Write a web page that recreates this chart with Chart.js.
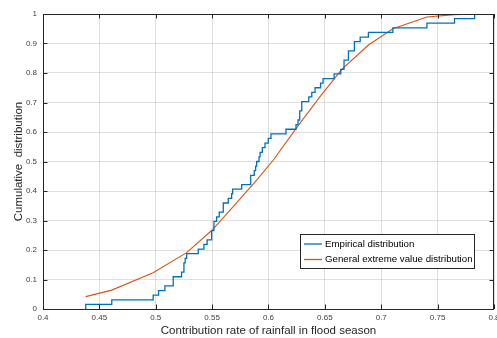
<!DOCTYPE html>
<html>
<head>
<meta charset="utf-8">
<script src="https://cdn.jsdelivr.net/npm/chart.js@4.4.1/dist/chart.umd.min.js"></script>
<style>
    html, body { margin: 0; padding: 0; background: #ffffff; }
    #grafico { display: block; }
</style>
</head>
<body>
<canvas id="grafico" width="497" height="338"></canvas>
<script>
// ========== DATOS ==========
// Distribución empírica: valor de la muestra y número acumulado de observaciones
const sampleSize = 64;
const empiricalX = [0.4379, 0.4610, 0.4977, 0.5025, 0.5081, 0.5155, 0.5229, 0.5250, 0.5261, 0.5274,
                    0.5377, 0.5427, 0.5456, 0.5496, 0.5516, 0.5540, 0.5563, 0.5599, 0.5643, 0.5673,
                    0.5682, 0.5762, 0.5842, 0.5874, 0.5886, 0.5895, 0.5916, 0.5925, 0.5945, 0.5969,
                    0.5998, 0.6022, 0.6155, 0.6244, 0.6262, 0.6277, 0.6295, 0.6357, 0.6384, 0.6413,
                    0.6462, 0.6484, 0.6582, 0.6641, 0.6670, 0.6709, 0.6762, 0.6813, 0.6886, 0.7103,
                    0.7405, 0.7650, 0.7828];
const empiricalCount = [1, 2, 3, 4, 5, 7, 8, 10, 11, 12,
                        13, 14, 15, 17, 19, 20, 21, 23, 24, 25,
                        26, 27, 29, 30, 31, 32, 33, 34, 35, 36,
                        37, 38, 39, 40, 41, 43, 45, 46, 47, 48,
                        49, 50, 51, 52, 54, 56, 58, 59, 60, 61,
                        62, 63, 64];

// Distribución de valores extremos generalizada (GEV)
const gevX = [0.4379, 0.4610, 0.4977, 0.5274, 0.5496, 0.5687, 0.5895, 0.6043,
              0.6250, 0.6457, 0.6650, 0.6886, 0.7103, 0.7405, 0.7650, 0.7828];
const gevY = [0.042, 0.064, 0.123, 0.191, 0.266, 0.347, 0.437, 0.505,
              0.615, 0.720, 0.812, 0.895, 0.950, 0.990, 0.998, 1.000];

// Marcas de los ejes
const xTicks = [0.4, 0.45, 0.5, 0.55, 0.6, 0.65, 0.7, 0.75, 0.8];
const yTicks = [0, 0.1, 0.2, 0.3, 0.4, 0.5, 0.6, 0.7, 0.8, 0.9, 1];

const seriesLabels = ['Empirical distribution', 'General extreme value distribution'];
const xTitle = 'Contribution rate of rainfall in flood season';
const yTitle = 'Cumulative  distribution';

// ========== ESTILO ==========
const FUENTE = "'Liberation Sans', Arial, Helvetica, sans-serif";
const AZUL = 'rgb(0, 114, 189)';
const NARANJA = 'rgb(217, 83, 25)';
const EJE = '#262626';

// ========== PLUGIN: caja, marcas interiores y leyenda al estilo MATLAB ==========
const ejesMatlab = {
    id: 'ejesMatlab',
    afterDatasetsDraw(chart) {
        const ctx = chart.ctx;
        const area = chart.chartArea;
        const xs = chart.scales.x;
        const ys = chart.scales.y;
        const largo = 4.5;

        ctx.save();
        ctx.strokeStyle = EJE;
        ctx.lineWidth = 1;

        // marcas hacia dentro en los cuatro lados
        ctx.beginPath();
        xTicks.forEach(v => {
            const px = Math.round(xs.getPixelForValue(v)) + 0.5;
            ctx.moveTo(px, area.bottom);
            ctx.lineTo(px, area.bottom - largo);
            ctx.moveTo(px, area.top);
            ctx.lineTo(px, area.top + largo);
        });
        yTicks.forEach(v => {
            const py = Math.round(ys.getPixelForValue(v)) + 0.5;
            ctx.moveTo(area.left, py);
            ctx.lineTo(area.left + largo, py);
            ctx.moveTo(area.right, py);
            ctx.lineTo(area.right - largo, py);
        });
        ctx.stroke();

        // caja
        ctx.strokeRect(Math.round(area.left) + 0.5, Math.round(area.top) + 0.5,
                       Math.round(area.right - area.left) - 1, Math.round(area.bottom - area.top));

        // leyenda
        const lx = 300.5, ly = 234.5, lw = 174, lh = 34;
        ctx.fillStyle = '#ffffff';
        ctx.fillRect(lx, ly, lw, lh);
        ctx.strokeStyle = EJE;
        ctx.strokeRect(lx, ly, lw, lh);

        const colores = [AZUL, NARANJA];
        const filas = [244, 259.5];
        ctx.font = '9.7px ' + FUENTE;
        ctx.textBaseline = 'middle';
        ctx.textAlign = 'left';
        seriesLabels.forEach((texto, i) => {
            ctx.strokeStyle = colores[i];
            ctx.lineWidth = 1.3;
            ctx.beginPath();
            ctx.moveTo(304, filas[i]);
            ctx.lineTo(322, filas[i]);
            ctx.stroke();
            ctx.fillStyle = '#000000';
            ctx.fillText(texto, 325, filas[i]);
        });
        ctx.restore();
    }
};

// ========== GRÁFICO ==========
const empiricalData = [{ x: empiricalX[0], y: 0 }].concat(
    empiricalX.map((x, i) => ({ x: x, y: empiricalCount[i] / sampleSize }))
);
const gevData = gevX.map((x, i) => ({ x: x, y: gevY[i] }));

const ctx = document.getElementById('grafico').getContext('2d');
new Chart(ctx, {
    type: 'scatter',
    data: {
        datasets: [{
            label: seriesLabels[0],
            data: empiricalData,
            showLine: true,
            stepped: 'before',
            borderColor: AZUL,
            borderWidth: 1.3,
            pointRadius: 0,
            fill: false
        }, {
            label: seriesLabels[1],
            data: gevData,
            showLine: true,
            borderColor: NARANJA,
            borderWidth: 1.1,
            pointRadius: 0,
            tension: 0,
            fill: false
        }]
    },
    options: {
        responsive: false,
        animation: false,
        layout: {
            padding: { top: 14, right: 3, left: 0, bottom: 0 }
        },
        plugins: {
            legend: { display: false },
            tooltip: { enabled: false }
        },
        scales: {
            x: {
                type: 'linear',
                min: 0.4,
                max: 0.8,
                afterBuildTicks: scale => { scale.ticks = xTicks.map(v => ({ value: v })); },
                afterFit: scale => {
                    scale.height = 29;
                    scale.paddingLeft = 0;
                    scale.paddingRight = 0;
                },
                grid: { color: 'rgba(38, 38, 38, 0.15)', lineWidth: 1, drawTicks: false },
                border: { display: false },
                ticks: {
                    padding: 4,
                    maxRotation: 0,
                    autoSkip: false,
                    color: '#404040',
                    font: { family: FUENTE, size: 8 },
                    callback: v => String(v)
                },
                title: {
                    display: true,
                    text: xTitle,
                    color: EJE,
                    padding: { top: 0, bottom: 0 },
                    font: { family: FUENTE, size: 11.5 }
                }
            },
            y: {
                type: 'linear',
                min: 0,
                max: 1,
                afterBuildTicks: scale => { scale.ticks = yTicks.map(v => ({ value: v })); },
                afterFit: scale => {
                    scale.width = 43;
                    scale.paddingTop = 0;
                    scale.paddingBottom = 0;
                },
                grid: { color: 'rgba(38, 38, 38, 0.15)', lineWidth: 1, drawTicks: false },
                border: { display: false },
                ticks: {
                    padding: 6,
                    autoSkip: false,
                    color: '#404040',
                    font: { family: FUENTE, size: 8 },
                    callback: v => String(v)
                },
                title: {
                    display: true,
                    text: yTitle,
                    color: EJE,
                    padding: { top: 12, bottom: 0 },
                    font: { family: FUENTE, size: 11.5 }
                }
            }
        }
    },
    plugins: [ejesMatlab]
});
</script>
</body>
</html>
